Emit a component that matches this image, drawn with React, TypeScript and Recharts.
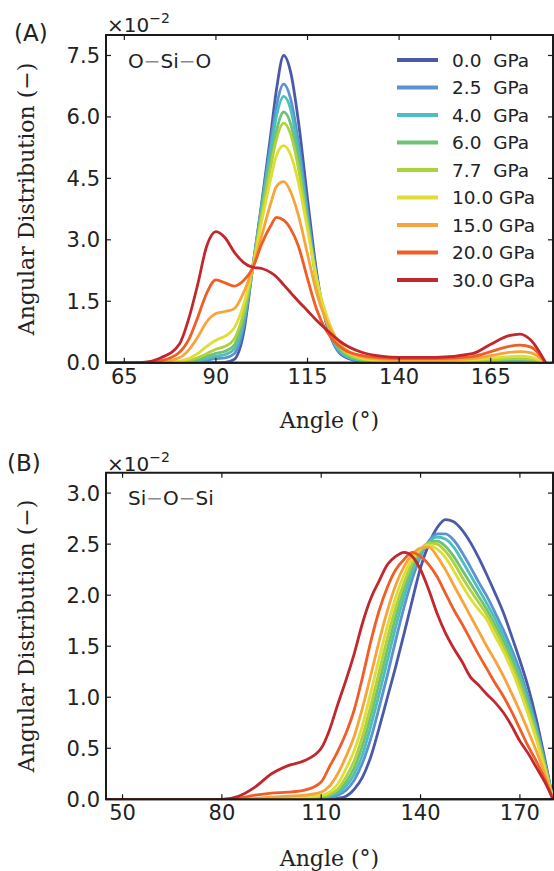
import React from "react";
import { Legend, Line, LineChart, ReferenceArea, ReferenceLine, XAxis, YAxis } from "recharts";

// Pressures and colours shared by both panels (low -> high pressure).
const PRESSURES = ["0.0", "2.5", "4.0", "6.0", "7.7", "10.0", "15.0", "20.0", "30.0"];
const COLORS = ["#4a5aa8", "#5b93d1", "#4bbfc0", "#6fc176", "#add23c", "#e0dd36", "#f9a43b", "#f05d26", "#c1272d"];

// (A) O-Si-O angular distribution, values in units of 1e-2
const anglesA = [60, 70, 75, 80, 82.5, 85, 87.5, 90, 92.5, 95, 97.5, 100, 102.5, 105, 106.5, 108.5, 110.5, 112.5, 115, 117.5, 120, 122.5, 125, 130, 135, 140, 150, 160, 165, 170, 173, 176, 180];
const oSiO_00 = [0, 0, 0, 0, 0, 0, 0, 0, 0.01, 0.08, 0.7, 2.3, 3.9, 5.6, 6.65, 7.5, 7.05, 5.9, 4.0, 2.2, 1.0, 0.4, 0.15, 0.03, 0.02, 0.02, 0.02, 0.02, 0.03, 0.03, 0.03, 0.02, 0];
const oSiO_25 = [0, 0, 0, 0, 0.01, 0.03, 0.06, 0.1, 0.12, 0.22, 0.85, 2.3, 3.85, 5.4, 6.25, 6.8, 6.4, 5.4, 3.7, 2.1, 1.05, 0.42, 0.17, 0.04, 0.02, 0.02, 0.02, 0.03, 0.04, 0.05, 0.05, 0.04, 0];
const oSiO_40 = [0, 0, 0, 0.01, 0.02, 0.05, 0.1, 0.16, 0.2, 0.33, 1.0, 2.3, 3.8, 5.2, 6.0, 6.5, 6.15, 5.15, 3.55, 2.05, 1.05, 0.45, 0.2, 0.05, 0.03, 0.03, 0.03, 0.03, 0.05, 0.06, 0.06, 0.05, 0];
const oSiO_60 = [0, 0, 0, 0.01, 0.03, 0.08, 0.15, 0.23, 0.28, 0.43, 1.1, 2.3, 3.7, 4.95, 5.65, 6.12, 5.8, 4.9, 3.4, 1.95, 1.05, 0.5, 0.23, 0.07, 0.03, 0.03, 0.03, 0.04, 0.06, 0.08, 0.08, 0.07, 0];
const oSiO_77 = [0, 0, 0, 0.02, 0.05, 0.12, 0.22, 0.33, 0.4, 0.58, 1.2, 2.3, 3.6, 4.8, 5.45, 5.85, 5.55, 4.75, 3.35, 2.0, 1.1, 0.55, 0.27, 0.08, 0.04, 0.03, 0.03, 0.05, 0.07, 0.1, 0.1, 0.09, 0];
const oSiO_100 = [0, 0, 0.01, 0.04, 0.1, 0.22, 0.4, 0.55, 0.65, 0.85, 1.4, 2.3, 3.45, 4.5, 5.05, 5.3, 5.05, 4.4, 3.25, 2.05, 1.2, 0.65, 0.33, 0.11, 0.05, 0.04, 0.04, 0.07, 0.11, 0.15, 0.16, 0.13, 0];
const oSiO_150 = [0, 0, 0.02, 0.12, 0.3, 0.62, 1.0, 1.2, 1.25, 1.32, 1.7, 2.3, 3.1, 3.9, 4.3, 4.42, 4.15, 3.6, 2.65, 1.7, 1.05, 0.62, 0.35, 0.14, 0.08, 0.06, 0.06, 0.1, 0.17, 0.25, 0.27, 0.24, 0];
const oSiO_200 = [0, 0, 0.05, 0.25, 0.55, 1.1, 1.7, 2.02, 1.95, 1.87, 2.0, 2.3, 2.9, 3.35, 3.55, 3.48, 3.25, 2.85, 2.05, 1.3, 0.8, 0.5, 0.32, 0.17, 0.12, 0.1, 0.1, 0.15, 0.27, 0.4, 0.43, 0.38, 0];
const oSiO_300 = [0, 0.01, 0.12, 0.45, 1.05, 1.9, 2.85, 3.2, 3.05, 2.7, 2.45, 2.33, 2.3, 2.2, 2.1, 1.9, 1.7, 1.5, 1.27, 1.03, 0.82, 0.62, 0.45, 0.25, 0.16, 0.13, 0.13, 0.22, 0.45, 0.66, 0.7, 0.55, 0];

// (B) Si-O-Si angular distribution, values in units of 1e-2
const anglesB = [45, 60, 80, 85, 90, 95, 100, 105, 110, 112.5, 115, 117.5, 120, 122.5, 125, 127.5, 130, 132.5, 135, 137.5, 140, 142.5, 145, 147.5, 150, 152.5, 155, 157.5, 160, 162.5, 165, 167.5, 170, 172.5, 175, 177.5, 180];
const siOSi_00 = [0, 0, 0, 0, 0, 0, 0, 0, 0, 0, 0.01, 0.03, 0.1, 0.22, 0.42, 0.7, 1.0, 1.3, 1.62, 1.95, 2.27, 2.5, 2.66, 2.74, 2.72, 2.64, 2.52, 2.37, 2.2, 2.02, 1.83, 1.6, 1.36, 1.1, 0.78, 0.4, 0];
const siOSi_25 = [0, 0, 0, 0, 0, 0, 0, 0, 0.01, 0.02, 0.04, 0.09, 0.19, 0.36, 0.6, 0.9, 1.22, 1.56, 1.88, 2.16, 2.38, 2.53, 2.6, 2.6, 2.54, 2.42, 2.28, 2.13, 1.99, 1.83, 1.66, 1.47, 1.26, 1.0, 0.71, 0.37, 0];
const siOSi_40 = [0, 0, 0, 0, 0, 0, 0, 0, 0.01, 0.03, 0.06, 0.13, 0.25, 0.44, 0.72, 1.03, 1.36, 1.69, 1.98, 2.23, 2.4, 2.52, 2.57, 2.55, 2.47, 2.34, 2.2, 2.06, 1.92, 1.77, 1.6, 1.42, 1.21, 0.96, 0.68, 0.35, 0];
const siOSi_60 = [0, 0, 0, 0, 0, 0, 0, 0, 0.02, 0.04, 0.08, 0.17, 0.31, 0.53, 0.82, 1.14, 1.47, 1.79, 2.06, 2.28, 2.43, 2.51, 2.53, 2.48, 2.38, 2.25, 2.12, 1.99, 1.86, 1.71, 1.55, 1.37, 1.17, 0.92, 0.65, 0.34, 0];
const siOSi_77 = [0, 0, 0, 0, 0, 0, 0, 0.01, 0.03, 0.05, 0.1, 0.22, 0.38, 0.62, 0.92, 1.25, 1.58, 1.88, 2.12, 2.32, 2.45, 2.51, 2.5, 2.43, 2.32, 2.18, 2.05, 1.93, 1.81, 1.66, 1.5, 1.32, 1.12, 0.88, 0.62, 0.32, 0];
const siOSi_100 = [0, 0, 0, 0, 0, 0, 0.01, 0.02, 0.04, 0.07, 0.15, 0.3, 0.48, 0.73, 1.05, 1.38, 1.7, 1.98, 2.2, 2.36, 2.45, 2.49, 2.45, 2.37, 2.24, 2.1, 1.97, 1.86, 1.76, 1.6, 1.45, 1.27, 1.06, 0.83, 0.58, 0.3, 0];
const siOSi_150 = [0, 0, 0, 0, 0.01, 0.02, 0.03, 0.04, 0.07, 0.13, 0.25, 0.42, 0.62, 0.9, 1.22, 1.55, 1.85, 2.1, 2.28, 2.4, 2.46, 2.47, 2.38, 2.25, 2.1, 1.95, 1.8, 1.65, 1.5, 1.36, 1.21, 1.04, 0.86, 0.67, 0.47, 0.25, 0];
const siOSi_200 = [0, 0, 0, 0.01, 0.04, 0.06, 0.07, 0.09, 0.17, 0.32, 0.47, 0.65, 0.88, 1.2, 1.55, 1.85, 2.08, 2.25, 2.35, 2.42, 2.38, 2.3, 2.18, 2.02, 1.86, 1.72, 1.57, 1.42, 1.28, 1.14, 1.01, 0.86, 0.69, 0.52, 0.37, 0.2, 0];
const siOSi_300 = [0, 0, 0, 0.03, 0.12, 0.25, 0.33, 0.38, 0.5, 0.68, 0.93, 1.17, 1.43, 1.73, 1.97, 2.14, 2.3, 2.38, 2.42, 2.38, 2.25, 2.05, 1.82, 1.63, 1.48, 1.35, 1.2, 1.12, 1.03, 0.95, 0.85, 0.72, 0.57, 0.45, 0.31, 0.17, 0];

const ticksAx = [65, 90, 115, 140, 165];
const ticksAy = [0, 1.5, 3.0, 4.5, 6.0, 7.5];
const ticksBx = [50, 80, 110, 140, 170];
const ticksBy = [0, 0.5, 1.0, 1.5, 2.0, 2.5, 3.0];

const seriesA = [oSiO_00, oSiO_25, oSiO_40, oSiO_60, oSiO_77, oSiO_100, oSiO_150, oSiO_200, oSiO_300];
const seriesB = [siOSi_00, siOSi_25, siOSi_40, siOSi_60, siOSi_77, siOSi_100, siOSi_150, siOSi_200, siOSi_300];

function toRows(angles: number[], series: number[][]) {
  return angles.map((a, i) => {
    const row: Record<string, number> = { angle: a };
    series.forEach((s, k) => (row[`p${k}`] = s[i]));
    return row;
  });
}

const dataA = toRows(anglesA, seriesA);
const dataB = toRows(anglesB, seriesB);

const INK = "#222";
const FRAME = "#1a1a1a";
const TICK = { fontSize: 21, fill: INK, fontFamily: "DejaVu Sans" };
const AXIS_LINE = { stroke: FRAME, strokeWidth: 2 };
const TICK_LINE = { stroke: FRAME, strokeWidth: 1.2 };
const TICK_PX = 5; // inward tick length
const fmt1 = (v: number) => v.toFixed(1);

function PressureLegend() {
  return (
    <svg width={160} height={250} style={{ overflow: "visible" }}>
      {PRESSURES.map((p, i) => (
        <g key={p} transform={`translate(0, ${12 + i * 27.5})`}>
          <line x1={0} x2={41} y1={0} y2={0} stroke={COLORS[i]} strokeWidth={4} />
          <text
            x={55}
            y={0}
            dy="0.36em"
            fontSize={18.5}
            fontFamily="DejaVu Sans"
            fill={INK}
            style={{ whiteSpace: "pre" }}
          >
            {p.length === 3 ? `${p}  GPa` : `${p} GPa`}
          </text>
        </g>
      ))}
    </svg>
  );
}

const CHART_W = 554;
const CHART_H = 400;
const M_LEFT = 46;
const Y_AXIS_W = 60;
const M_RIGHT = 1;

function Panel({
  data,
  xDomain,
  xTicks,
  yDomain,
  yTicks,
  top,
  marginTop,
  xAxisHeight,
  legend,
}: {
  data: Record<string, number>[];
  xDomain: [number, number];
  xTicks: number[];
  yDomain: [number, number];
  yTicks: number[];
  top: number;
  marginTop: number;
  xAxisHeight: number;
  legend?: boolean;
}) {
  const plotW = CHART_W - M_LEFT - Y_AXIS_W - M_RIGHT;
  const plotH = CHART_H - marginTop - xAxisHeight;
  const dx = ((xDomain[1] - xDomain[0]) * TICK_PX) / plotW;
  const dy = ((yDomain[1] - yDomain[0]) * TICK_PX) / plotH;
  return (
    <div style={{ position: "absolute", left: 0, top, width: CHART_W, height: CHART_H }}>
      <LineChart
        width={CHART_W}
        height={CHART_H}
        data={data}
        margin={{ top: marginTop, right: M_RIGHT, bottom: 0, left: M_LEFT }}
      >
        <XAxis
          dataKey="angle"
          type="number"
          domain={xDomain}
          ticks={xTicks}
          interval={0}
          height={xAxisHeight}
          tick={TICK}
          tickSize={-TICK_PX}
          tickMargin={11}
          axisLine={AXIS_LINE}
          tickLine={TICK_LINE}
          allowDataOverflow
        />
        <YAxis
          type="number"
          domain={yDomain}
          ticks={yTicks}
          interval={0}
          width={Y_AXIS_W}
          tick={TICK}
          tickFormatter={fmt1}
          tickSize={-TICK_PX}
          tickMargin={11}
          axisLine={AXIS_LINE}
          tickLine={TICK_LINE}
          allowDataOverflow
        />
        {PRESSURES.map((p, k) => (
          <Line
            key={p}
            type="monotone"
            dataKey={`p${k}`}
            stroke={COLORS[k]}
            strokeWidth={2.8}
            dot={false}
            isAnimationActive={false}
          />
        ))}
        {/* box frame with inward ticks on top and right */}
        <ReferenceArea
          x1={xDomain[0]}
          x2={xDomain[1]}
          y1={yDomain[0]}
          y2={yDomain[1]}
          fill="none"
          fillOpacity={0}
          stroke={FRAME}
          strokeWidth={2}
          ifOverflow="visible"
        />
        {xTicks.map((t) => (
          <ReferenceLine
            key={`tx${t}`}
            segment={[
              { x: t, y: yDomain[1] },
              { x: t, y: yDomain[1] - dy },
            ]}
            stroke={FRAME}
            strokeWidth={1.2}
            ifOverflow="visible"
          />
        ))}
        {yTicks.map((t) => (
          <ReferenceLine
            key={`ty${t}`}
            segment={[
              { x: xDomain[1], y: t },
              { x: xDomain[1] - dx, y: t },
            ]}
            stroke={FRAME}
            strokeWidth={1.2}
            ifOverflow="visible"
          />
        ))}
        {legend && (
          <Legend
            layout="vertical"
            align="center"
            verticalAlign="middle"
            content={() => <PressureLegend />}
            wrapperStyle={{ left: 397, top: 48, width: 160, height: 250 }}
          />
        )}
      </LineChart>
    </div>
  );
}

function Labels() {
  const serif = "DejaVu Serif";
  const sans = "DejaVu Sans";
  const dash = (t: string) => <tspan fill="#8a8a8a">{t}</tspan>;
  return (
    <svg
      width={554}
      height={871}
      style={{ position: "absolute", left: 0, top: 0, pointerEvents: "none" }}
    >
      {/* panel A */}
      <text x={14} y={41} fontSize={23} fontFamily={sans} fill={INK}>(A)</text>
      <text x={107} y={32} fontSize={20} fontFamily={sans} fill={INK}>
        ×10<tspan fontSize={14} dy={-9}>−2</tspan>
      </text>
      <text x={128} y={68} fontSize={20} fontFamily={sans} fill={INK}>
        O{dash("−")}Si{dash("−")}O
      </text>
      <text transform="translate(34, 199) rotate(-90)" textAnchor="middle" fontSize={22} fontFamily={serif} fill={INK}>
        Angular Distribution (−)
      </text>
      <text x={329.5} y={428} textAnchor="middle" fontSize={22} fontFamily={serif} fill={INK}>
        Angle (°)
      </text>
      {/* panel B */}
      <text x={7} y={471} fontSize={23} fontFamily={sans} fill={INK}>(B)</text>
      <text x={107} y={471} fontSize={20} fontFamily={sans} fill={INK}>
        ×10<tspan fontSize={14} dy={-9}>−2</tspan>
      </text>
      <text x={128} y={505} fontSize={20} fontFamily={sans} fill={INK}>
        Si{dash("−")}O{dash("−")}Si
      </text>
      <text transform="translate(34, 636) rotate(-90)" textAnchor="middle" fontSize={22} fontFamily={serif} fill={INK}>
        Angular Distribution (−)
      </text>
      <text x={329.5} y={866} textAnchor="middle" fontSize={22} fontFamily={serif} fill={INK}>
        Angle (°)
      </text>
    </svg>
  );
}

export default function App() {
  return (
    <div style={{ position: "absolute", left: 0, top: 0, width: 554, height: 871, background: "#fff" }}>
      <Panel
        data={dataA}
        xDomain={[60, 182]}
        xTicks={ticksAx}
        yDomain={[0, 8]}
        yTicks={ticksAy}
        top={0}
        marginTop={35}
        xAxisHeight={37.3}
        legend
      />
      <Panel
        data={dataB}
        xDomain={[45, 180]}
        xTicks={ticksBx}
        yDomain={[0, 3.2]}
        yTicks={ticksBy}
        top={440}
        marginTop={32.7}
        xAxisHeight={40.7}
      />
      <Labels />
    </div>
  );
}
